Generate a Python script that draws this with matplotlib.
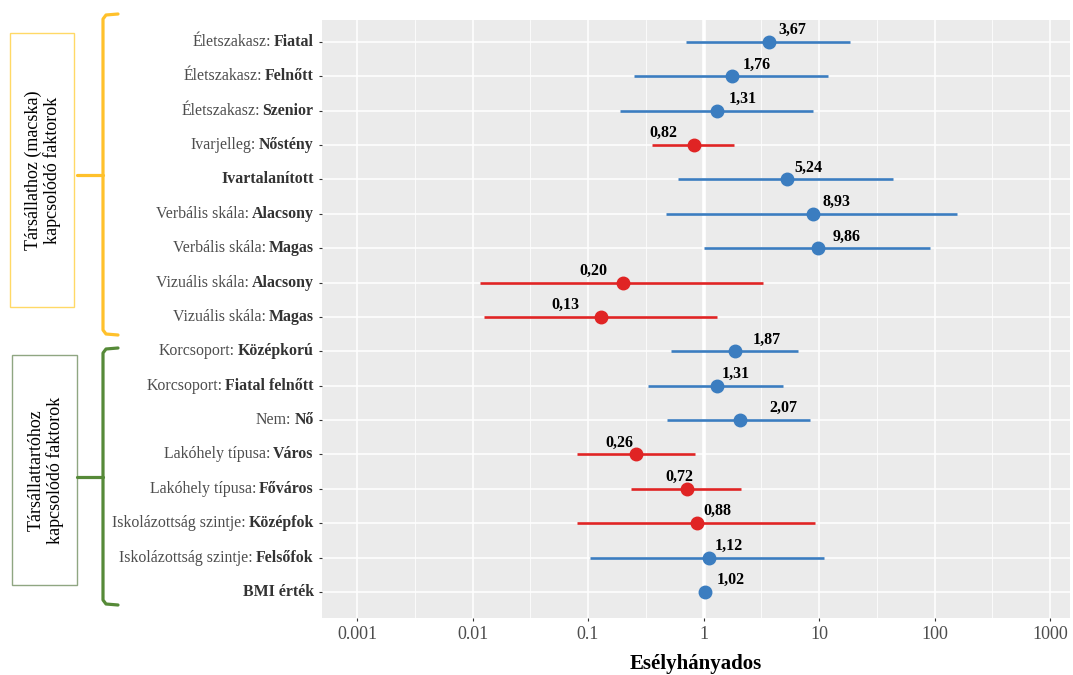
import numpy as np
import matplotlib
matplotlib.use("Agg")
import matplotlib.pyplot as plt
from matplotlib.offsetbox import TextArea, HPacker, AnnotationBbox
from matplotlib.patches import Rectangle
from matplotlib.lines import Line2D

W, H = 1073, 675
SERIF = ["Liberation Serif", "DejaVu Serif"]

# label text: regular prefix + bold part
label_pre = ["Életszakasz: ", "Életszakasz: ", "Életszakasz: ", "Ivarjelleg: ", "",
             "Verbális skála: ", "Verbális skála: ", "Vizuális skála: ", "Vizuális skála: ",
             "Korcsoport: ", "Korcsoport: ", "Nem: ", "Lakóhely típusa: ", "Lakóhely típusa: ",
             "Iskolázottság szintje: ", "Iskolázottság szintje: ", ""]
label_bold = ["Fiatal", "Felnőtt", "Szenior", "Nőstény", "Ivartalanított",
              "Alacsony", "Magas", "Alacsony", "Magas",
              "Középkorú", "Fiatal felnőtt", "Nő", "Város", "Főváros",
              "Középfok", "Felsőfok", "BMI érték"]

odds = [3.67, 1.76, 1.31, 0.82, 5.24, 8.93, 9.86, 0.20, 0.13,
        1.87, 1.31, 2.07, 0.26, 0.72, 0.88, 1.12, 1.02]
ci_low = [0.71, 0.25, 0.19, 0.355, 0.60, 0.47, 1.0, 0.0117, 0.0127,
          0.52, 0.33, 0.48, 0.080, 0.235, 0.080, 0.105, 0.98]
ci_high = [18.4, 11.9, 8.8, 1.85, 44, 158, 92, 3.3, 1.3,
           6.6, 4.9, 8.3, 0.85, 2.1, 9.3, 11.1, 1.06]
odds_txt = ["3,67", "1,76", "1,31", "0,82", "5,24", "8,93", "9,86", "0,20", "0,13",
            "1,87", "1,31", "2,07", "0,26", "0,72", "0,88", "1,12", "1,02"]

# horizontal offset of the value labels (pixels)
label_dx = [24, 25, 26, -30, 22, 23, 28, -29, -36, 32, 19, 43, -17, -8, 20, 20, 26]

xticks = [0.001, 0.01, 0.1, 1, 10, 100, 1000]
xtick_labels = ["0.001", "0.01", "0.1", "1", "10", "100", "1000"]

BLUE = "#3B7DC0"
RED = "#E02424"

fig = plt.figure(figsize=(W / 100, H / 100), dpi=100)
ax = fig.add_axes([322 / W, 1 - 618 / H, (1070 - 322) / W, (618 - 20) / H])
ax.set_facecolor("#EBEBEB")

n = len(odds)
y = np.arange(1, n + 1)

ax.set_xscale("log")
ax.set_xlim(10 ** -3.303, 10 ** 3.173)
ax.set_ylim(n + 0.76, 0.36)

# grid
for dec in range(-3, 4):
    ax.axvline(10 ** dec, color="white", lw=1.1, zorder=1)
    if dec < 3:
        ax.axvline(10 ** (dec + 0.5), color="white", lw=0.55, zorder=1)
for yy in y:
    ax.axhline(yy, color="white", lw=1.1, zorder=1)
ax.axvline(1, color="white", lw=2.6, zorder=1)

for i in range(n):
    c = RED if odds[i] < 1 else BLUE
    ax.plot([ci_low[i], ci_high[i]], [y[i], y[i]], color=c, lw=1.9, zorder=3,
            solid_capstyle="butt")
    ax.plot(odds[i], y[i], "o", color=c, ms=9, zorder=4)
    ax.annotate(odds_txt[i], (odds[i], y[i]), xytext=(label_dx[i] * 0.72, 8.5),
                textcoords="offset points", ha="center", va="center",
                fontsize=11.5, fontweight="bold", family=SERIF, color="black")

for s in ax.spines.values():
    s.set_visible(False)

ax.set_xticks(xticks)
ax.set_xticklabels(xtick_labels, family=SERIF, fontsize=13, color="#4D4D4D")
ax.xaxis.set_minor_locator(matplotlib.ticker.NullLocator())
ax.set_yticks(y)
ax.set_yticklabels([""] * n)
ax.tick_params(axis="both", length=2.5, color="#333333", width=0.8)
ax.tick_params(axis="x", pad=3)

# y labels with mixed weight
for i in range(n):
    parts = []
    if label_pre[i]:
        parts.append(TextArea(label_pre[i].rstrip(), textprops=dict(
            family=SERIF, fontsize=11.4, color="#4D4D4D")))
    parts.append(TextArea(label_bold[i], textprops=dict(
        family=SERIF, fontsize=11.4, color="#333333", fontweight="bold")))
    pack = HPacker(children=parts, align="baseline", pad=0, sep=2.2)
    ab = AnnotationBbox(pack, (0, y[i]), xycoords=ax.get_yaxis_transform(),
                        xybox=(-6, 0), boxcoords="offset points",
                        box_alignment=(1, 0.5), frameon=False, pad=0,
                        annotation_clip=False)
    ax.add_artist(ab)

fig.text(696 / W, 1 - 664 / H, "Esélyhányados", ha="center", va="center",
         family=SERIF, fontsize=15, fontweight="bold", color="black")


def fx(px):
    return px / W


def fy(py):
    return 1 - py / H


def bracket(top, bottom, mid, color):
    xs = [fx(118), fx(106), fx(103), fx(103), fx(106), fx(118)]
    ys = [fy(top), fy(top + 1), fy(top + 5), fy(bottom - 5), fy(bottom - 1), fy(bottom)]
    fig.add_artist(Line2D(xs, ys, transform=fig.transFigure, color=color, lw=2.3,
                          solid_joinstyle="round", solid_capstyle="round"))
    fig.add_artist(Line2D([fx(77), fx(103)], [fy(mid), fy(mid)], transform=fig.transFigure,
                          color=color, lw=2.3, solid_capstyle="round"))


def group_box(x0, y0, x1, y1, color, text):
    fig.add_artist(Rectangle((fx(x0), fy(y1)), fx(x1) - fx(x0), fy(y0) - fy(y1),
                             transform=fig.transFigure, fill=False, edgecolor=color, lw=1.0))
    fig.text(fx((x0 + x1) / 2 + 1), fy((y0 + y1) / 2), text, rotation=90, ha="center",
             va="center", family=SERIF, fontsize=13, color="black", linespacing=1.1)


bracket(14, 335, 175, "#FFC12B")
group_box(10, 33, 74, 307, "#FFD966", "Társállathoz (macska)\nkapcsolódó faktorok")
bracket(348, 605, 477, "#568A38")
group_box(12, 355, 77, 585, "#8FA682", "Társállattartóhoz\nkapcsolódó faktorok")

fig.savefig("out.png", dpi=100)
